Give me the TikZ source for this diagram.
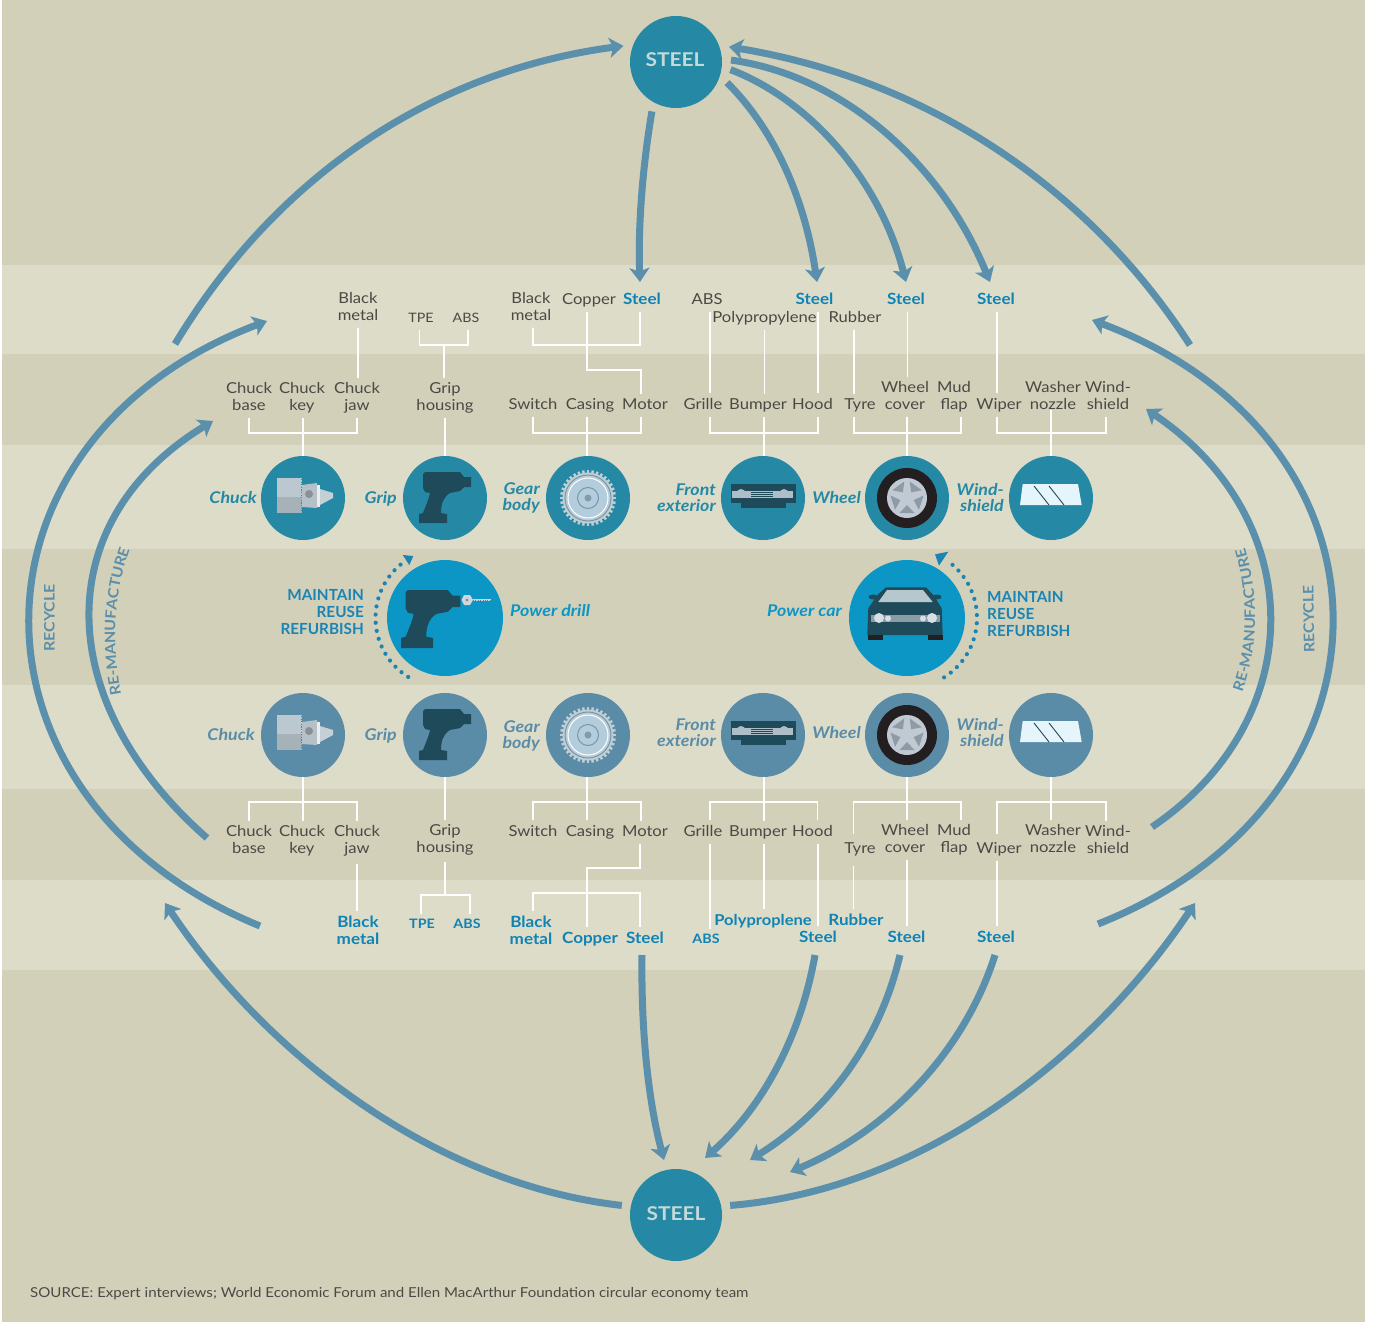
\documentclass[tikz,border=0pt]{standalone}
\usepackage{fontspec}
\setmainfont[FakeStretch=1.1]{Lato}
\newfontfamily\plainlato{Lato}
\usetikzlibrary{arrows.meta,shapes.geometric,decorations.text}
\definecolor{bgdark}{HTML}{D3D0BA}
\definecolor{bglight}{HTML}{DDDCC9}
\definecolor{teal}{HTML}{2589A5}
\definecolor{slate}{HTML}{5A8CA8}
\definecolor{arrowc}{HTML}{5B90AC}
\definecolor{bright}{HTML}{0C96C5}
\definecolor{inkblue}{HTML}{1083B5}
\definecolor{capblue}{HTML}{1A85B5}
\definecolor{ink}{HTML}{4A4A45}
\definecolor{navy}{HTML}{1E4A5A}
\definecolor{steeltxt}{HTML}{C3DAD8}
\definecolor{tyre}{HTML}{231F20}
\tikzset{
  band/.style={fill=bglight,draw=none},
  part/.style={font=\fontsize{15.1}{16.5}\selectfont,text=ink,anchor=base,align=center,inner sep=0pt,outer sep=4.5pt,text depth=3pt},
  mat/.style={part,font=\fontsize{15.5}{16.5}\selectfont\bfseries,text=inkblue},
  small/.style={part,font=\fontsize{13}{14}\selectfont},
  smallb/.style={part,font=\fontsize{13}{14}\selectfont\bfseries,text=inkblue},
  uplab/.style={font=\fontsize{16.2}{16}\selectfont\bfseries\itshape,text=teal,anchor=base east,align=right,inner sep=0pt},
  lowlab/.style={uplab,text=slate},
  wire/.style={draw=white,line width=1.8pt},
  flow/.style={draw=arrowc,line width=7pt,-{Stealth[length=14pt,width=20pt,inset=3.5pt]}},
  side/.style={font=\fontsize{14.5}{14.5}\selectfont\bfseries,text=arrowc,inner sep=0pt},
  care/.style={font=\plainlato\fontsize{15.3}{17}\selectfont\bfseries,text=capblue,inner sep=0pt},
  steelc/.style={circle,fill=teal,minimum size=92pt,inner sep=0pt,outer sep=9pt},
  steelt/.style={text=steeltxt,font=\fontsize{19}{19}\selectfont\bfseries},
  upc/.style={circle,fill=teal,minimum size=84pt,inner sep=0pt},
  lowc/.style={circle,fill=slate,minimum size=84pt,inner sep=0pt},
  bigc/.style={circle,fill=bright,minimum size=116pt,inner sep=0pt},
  dots/.style={draw=capblue,line width=4.2pt,line cap=round,dash pattern=on 0pt off 8.2pt},
  along/.style={decorate,decoration={text along path,text align=center,text={|\color{arrowc}\fontsize{14.5}{14.5}\selectfont\bfseries|RE-MANUFACTURE}}},
}
\newcommand{\drillbody}{%
 (425,472) -- (460,472) -- (464,477) -- (471,477) -- (471,487) -- (464,487) -- (460,491) -- (450,493)
 .. controls (443,497) and (441,505) .. (441,513) -- (447,514) -- (447,523) -- (419,523) -- (419,514) -- (423,513)
 .. controls (426,505) and (429,499) .. (430,493) -- (425,492) -- (423,488) -- (423,474) -- cycle}
\newcommand{\iconrow}{%
 % chuck
 \fill[color={rgb,255:red,188;green,200;blue,208}] (277,478) rectangle (302,497);
 \fill[color={rgb,255:red,166;green,177;blue,184}] (277,497) rectangle (302,513);
 \draw[color={rgb,255:red,110;green,120;blue,128},line width=1.6pt,dash pattern=on 1.2pt off 1.4pt] (301.5,479) -- (301.5,512);
 \fill[color={rgb,255:red,180;green,193;blue,201}] (302,485) -- (317,483) -- (317,508) -- (302,507) -- cycle;
 \fill[color={rgb,255:red,142;green,142;blue,149}] (309,494) circle (4pt);
 \fill[white!85!gray] (317,485) rectangle (320,507);
 \fill[color={rgb,255:red,196;green,208;blue,214}] (320,489) -- (333,493) -- (333,498) -- (320,505) -- cycle;
 % grip
 \fill[navy] \drillbody;
 % gear
 \foreach \a in {0,10,...,350}{\fill[color={rgb,255:red,193;green,207;blue,212},rotate around={\a:(588,498)}] (586.8,470) rectangle (589.2,474);}
 \fill[color={rgb,255:red,193;green,207;blue,212}] (588,498) circle (25.5pt);
 \fill[color={rgb,255:red,180;green,205;blue,220}] (588,498) circle (22pt);
 \draw[color={rgb,255:red,120;green,150;blue,168},line width=1pt] (588,498) circle (23pt);
 \draw[white,line width=1pt] (588,498) circle (20pt);
 \draw[color={rgb,255:red,120;green,150;blue,168},line width=1pt] (588,498) circle (10.5pt);
 \fill[color={rgb,255:red,130;green,155;blue,172}] (588,498) circle (3.5pt);
 % front exterior
 \fill[navy] (731,484) rectangle (796,503);
 \fill[navy] (741,503) rectangle (786,508);
 \fill[color={rgb,255:red,174;green,190;blue,200}] (732,491) rectangle (793,498);
 \fill[color={rgb,255:red,174;green,190;blue,200}] (741,493.5) circle (4.5pt);
 \fill[color={rgb,255:red,174;green,190;blue,200}] (784,493.5) circle (4.5pt);
 \foreach \yy in {492.5,494.5,496.5}{\draw[navy,line width=.5pt] (751,\yy) -- (773,\yy);}
 % wheel
 \fill[tyre] (907,498) circle (30pt);
 \fill[color={rgb,255:red,193;green,202;blue,210}] (907,498) circle (20pt);
 \foreach \a in {0,72,...,288}{\fill[color={rgb,255:red,142;green,155;blue,166},rotate around={\a:(907,498)}] (907,505) -- (914.5,513) -- (899.5,513) -- cycle;}
 % windshield
 \fill[color={rgb,255:red,230;green,245;blue,252}] (1022.7,484) -- (1078,484) -- (1081.7,505) -- (1020,505) -- cycle;
 \draw[navy,line width=.9pt] (1034,486) -- (1049,505);
 \draw[navy,line width=.9pt] (1049,486) -- (1064,505);
}
\begin{document}
\begin{tikzpicture}[x=1pt,y=-1pt]
\useasboundingbox (0,0) rectangle (1379,1322);
\fill[white] (0,0) rectangle (1379,1322);
\fill[bgdark] (2,0) rectangle (1365,1322);
\foreach \a/\b in {265/354,445/549,685/789,880/970}{\fill[band] (2,\a) rectangle (1365,\b);}

% main circles
\node[steelc] (steelT) at (676,62) {};
\node[steelc] (steelB) at (676,1215) {};
\node[steelt] (steelTt) at (675,60) {STEEL};
\node[steelt] (steelBt) at (676,1214) {STEEL};

\node[upc] (cChuck) at (303,498) {};
\node[upc] (cGrip) at (445,498) {};
\node[upc] (cGear) at (588,498) {};
\node[upc] (cFront) at (763,498) {};
\node[upc] (cWheel) at (907,498) {};
\node[upc] (cWind) at (1051,498) {};
\node[lowc] (dChuck) at (303,735) {};
\node[lowc] (dGrip) at (445,735) {};
\node[lowc] (dGear) at (588,735) {};
\node[lowc] (dFront) at (763,735) {};
\node[lowc] (dWheel) at (907,735) {};
\node[lowc] (dWind) at (1051,735) {};
\node[bigc] (drill) at (445,618) {};
\node[bigc] (car) at (907,618) {};

\iconrow
\begin{scope}[shift={(0,237)}]\iconrow\end{scope}

% power drill icon
\begin{scope}[shift={(405.7,590)},scale=1.14,shift={(-423,-472)}]
 \fill[navy] \drillbody;
\end{scope}
\fill[color={rgb,255:red,205;green,214;blue,220}] (461.5,600) -- (464,595) -- (470,595) -- (473,600) -- (470,605) -- (464,605) -- cycle;
\fill[color={rgb,255:red,120;green,125;blue,130}] (467,600) circle (1.4pt);
\draw[color={rgb,255:red,205;green,214;blue,220},line width=1.6pt] (473,600) -- (491,600);
\draw[navy!70!white,line width=.5pt,dash pattern=on 1pt off 1.4pt] (473,600) -- (491,600);

% car icon
\fill[navy] (873,597) ellipse (4.5pt and 2.5pt);
\fill[navy] (937,597) ellipse (4.5pt and 2.5pt);
\fill[navy] (886,587.3) -- (926,587.3) -- (933.3,595) -- (941.7,608.3) -- (942.7,635) -- (867.3,635) -- (868.3,608.3) -- (877.3,595) -- cycle;
\fill[color={rgb,255:red,183;green,199;blue,206}] (887,590) -- (923,590) -- (932.7,602) -- (878.3,602) -- cycle;
\fill[color={rgb,255:red,138;green,156;blue,165}] (871,615) rectangle (940,622);
\fill[color={rgb,255:red,216;green,224;blue,230}] (879,618) circle (5pt);
\fill[color={rgb,255:red,216;green,224;blue,230}] (888,618.5) circle (3pt);
\fill[color={rgb,255:red,216;green,224;blue,230}] (932,618) circle (5pt);
\fill[color={rgb,255:red,216;green,224;blue,230}] (923,618.5) circle (3pt);
\fill[tyre] (867.7,635) rectangle (882.7,640);
\fill[tyre] (927.7,635) rectangle (943,640);

% dotted maintain arcs
\draw[dots] plot[domain=122:234,samples=40] ({445+69.5*cos(\x)},{618+69.5*sin(\x)});
\fill[capblue] (402.7,555) -- (413.3,556) -- (409.3,565) -- cycle;
\draw[dots] plot[domain=58:-52,samples=40] ({907+70*cos(\x)},{618+70*sin(\x)});
\fill[capblue] (935,554.3) -- (948.3,551.7) -- (939,565.7) -- cycle;

% upper materials
\node[part] (uBlackA) at (358,320) {Black\\metal};
\node[small] (uTPE) at (421,322) {TPE};
\node[small] (uABSa) at (466,322) {ABS};
\node[part] (uBlackB) at (531,320) {Black\\metal};
\node[part] (uCopper) at (589,304) {Copper};
\node[mat] (uSteelA) at (642,304) {Steel};
\node[part] (uABSb) at (707,304) {ABS};
\node[part] (uPoly) at (764.5,322) {Polypropylene};
\node[mat] (uSteelB) at (814.5,304) {Steel};
\node[part] (uRubber) at (855,322) {Rubber};
\node[mat] (uSteelC) at (906,304) {Steel};
\node[mat] (uSteelD) at (996,304) {Steel};
% upper parts
\node[part] (uBase) at (249,410) {Chuck\\base};
\node[part] (uKey) at (302,410) {Chuck\\key};
\node[part] (uJaw) at (357,410) {Chuck\\jaw};
\node[part] (uHouse) at (445,410) {Grip\\housing};
\node[part] (uSwitch) at (533,409) {Switch};
\node[part] (uCasing) at (590,409) {Casing};
\node[part] (uMotor) at (645,409) {Motor};
\node[part] (uGrille) at (703,409) {Grille};
\node[part] (uBumper) at (758,409) {Bumper};
\node[part] (uHood) at (812.5,409) {Hood};
\node[part] (uTyre) at (860,409) {Tyre};
\node[part] (uCover) at (905,409) {Wheel\\cover};
\node[part] (uMud) at (954,409) {Mud\\flap};
\node[part] (uWiper) at (999,409) {Wiper};
\node[part] (uNozzle) at (1053,409) {Washer\\nozzle};
\node[part] (uShield) at (1108,409) {Wind-\\shield};
% lower parts
\node[part] (lBase) at (249,853) {Chuck\\base};
\node[part] (lKey) at (302,853) {Chuck\\key};
\node[part] (lJaw) at (357,853) {Chuck\\jaw};
\node[part] (lHouse) at (445,852) {Grip\\housing};
\node[part] (lSwitch) at (533,836) {Switch};
\node[part] (lCasing) at (590,836) {Casing};
\node[part] (lMotor) at (645,836) {Motor};
\node[part] (lGrille) at (703,836) {Grille};
\node[part] (lBumper) at (758,836) {Bumper};
\node[part] (lHood) at (812.5,836) {Hood};
\node[part] (lTyre) at (860,853) {Tyre};
\node[part] (lCover) at (905,852) {Wheel\\cover};
\node[part] (lMud) at (954,852) {Mud\\flap};
\node[part] (lWiper) at (999,853) {Wiper};
\node[part] (lNozzle) at (1053,852) {Washer\\nozzle};
\node[part] (lShield) at (1108,853) {Wind-\\shield};
% lower materials
\node[mat] (lBlackA) at (358,944) {Black\\metal};
\node[smallb] (lTPE) at (422,928) {TPE};
\node[smallb] (lABSa) at (467,928) {ABS};
\node[mat] (lBlackB) at (531,944) {Black\\metal};
\node[mat] (lCopper) at (590,943) {Copper};
\node[mat] (lSteelA) at (645,943) {Steel};
\node[smallb] (lABSb) at (706,943) {ABS};
\node[mat,font=\fontsize{15}{16.5}\selectfont\bfseries] (lPoly) at (763,925) {Polyproplene};
\node[mat] (lRubber) at (856,925) {Rubber};
\node[mat] (lSteelB) at (818,942) {Steel};
\node[mat] (lSteelC) at (906.5,942) {Steel};
\node[mat] (lSteelD) at (996,942) {Steel};

% junctions
\coordinate (jGrip) at (444,345);
\coordinate (jMat) at (587,345);
\coordinate (jMotor) at (587,370);
\coordinate (jChuck) at (303,433);
\coordinate (jGear) at (587,433);
\coordinate (jFront) at (764,433);
\coordinate (jWheel) at (907,433);
\coordinate (jWind) at (1051,433);
\coordinate (kChuck) at (303,802);
\coordinate (kGear) at (587,802);
\coordinate (kFront) at (764,802);
\coordinate (kWheel) at (907,802);
\coordinate (kWind) at (1051,802);
\coordinate (kGrip) at (445,895);
\coordinate (kMotor) at (587,868);
\coordinate (kMat) at (587,893);

% upper wires
\draw[wire] (uBlackA.south) -- ([xshift=1pt]uJaw.north);
\draw[wire] ([xshift=-1.5pt]uTPE.south) |- (jGrip) -| ([xshift=2pt]uABSa.south);
\draw[wire] (jGrip) -- ([xshift=-1pt]uHouse.north);
\draw[wire] ([xshift=2pt]uBlackB.south) |- (jMat) -| ([xshift=-2pt]uSteelA.south);
\draw[wire] ([xshift=-2pt]uCopper.south) -- (jMotor) -| ([xshift=-4pt]uMotor.north);
\draw[wire] ([xshift=3pt]uABSb.south) -- ([xshift=7pt]uGrille.north);
\draw[wire] (uPoly.south) -- ([xshift=6.5pt]uBumper.north);
\draw[wire] ([xshift=3.5pt]uSteelB.south) -- ([xshift=5.5pt]uHood.north);
\draw[wire] ([xshift=-1pt]uRubber.south) -- ([xshift=-6pt]uTyre.north);
\draw[wire] ([xshift=1.5pt]uSteelC.south) -- ([xshift=2.5pt]uCover.north);
\draw[wire] ([xshift=1pt]uSteelD.south) -- ([xshift=-2pt]uWiper.north);
\draw[wire] (uBase.south) |- (jChuck) -| (uJaw.south);
\draw[wire] ([xshift=1pt]uKey.south) -- (cChuck.north);
\draw[wire] (uHouse.south) -- (cGrip.north);
\draw[wire] (uSwitch.south) |- (jGear) -| ([xshift=-4pt]uMotor.south);
\draw[wire] ([xshift=-3pt]uCasing.south) -- ([xshift=-1pt]cGear.north);
\draw[wire] ([xshift=7pt]uGrille.south) |- (jFront) -| ([xshift=5.5pt]uHood.south);
\draw[wire] ([xshift=6pt]uBumper.south) -- ([xshift=1pt]cFront.north);
\draw[wire] ([xshift=-6pt]uTyre.south) |- (jWheel) -| ([xshift=7pt]uMud.south);
\draw[wire] ([xshift=2pt]uCover.south) -- (cWheel.north);
\draw[wire] ([xshift=-2pt]uWiper.south) |- (jWind) -| ([xshift=-2pt]uShield.south);
\draw[wire] ([xshift=-2pt,yshift=7pt]uNozzle.south) -- (cWind.north);

% lower wires
\draw[wire] (dChuck.south) -- ([xshift=1pt]lKey.north);
\draw[wire] (lBase.north) |- (kChuck) -| (lJaw.north);
\draw[wire] (dGrip.south) -- (lHouse.north);
\draw[wire] ([xshift=-1pt]dGear.south) -- ([xshift=-3pt]lCasing.north);
\draw[wire] (lSwitch.north) |- (kGear) -| ([xshift=-4pt]lMotor.north);
\draw[wire] ([xshift=1pt]dFront.south) -- ([xshift=6pt]lBumper.north);
\draw[wire] ([xshift=7pt]lGrille.north) |- (kFront) -| ([xshift=5pt]lHood.north);
\draw[wire] (dWheel.south) -- ([xshift=2pt]lCover.north);
\draw[wire] ([xshift=-6.5pt,yshift=3.5pt]lTyre.north) |- (kWheel) -| ([xshift=7pt]lMud.north);
\draw[wire] (dWind.south) -- ([xshift=-2pt]lNozzle.north);
\draw[wire] ([xshift=-2pt,yshift=3.5pt]lWiper.north) |- (kWind) -| ([xshift=-2pt]lShield.north);
\draw[wire] ([yshift=-3pt]lJaw.south) -- ([xshift=-1pt]lBlackA.north);
\draw[wire] ([yshift=-2pt]lHouse.south) -- (kGrip);
\draw[wire] ([xshift=-1pt]lTPE.north) |- (kGrip) -| ([xshift=3pt]lABSa.north);
\draw[wire] ([xshift=-5pt]lMotor.south) |- (kMotor) -- ([xshift=-3pt]lCopper.north);
\draw[wire] ([xshift=2pt]lBlackB.north) |- (kMat) -| ([xshift=-5pt]lSteelA.north);
\draw[wire] ([xshift=7pt]lGrille.south) -- ([xshift=4pt]lABSb.north);
\draw[wire] ([xshift=6pt]lBumper.south) -- ([xshift=1pt]lPoly.north);
\draw[wire] ([xshift=5.5pt]lHood.south) -- (lSteelB.north);
\draw[wire] ([xshift=-6.5pt,yshift=-5pt]lTyre.south) -- ([xshift=-2.5pt]lRubber.north);
\draw[wire] ([xshift=2pt]lCover.south) -- ([xshift=.5pt]lSteelC.north);
\draw[wire] ([xshift=-2pt]lWiper.south) -- ([xshift=1pt]lSteelD.north);

% circle labels
\node[uplab] (t1) at (257,503) {Chuck};
\node[uplab] (t2) at (397,503) {Grip};
\node[uplab] (t3) at (540,510) {Gear\\body};
\node[uplab] (t4) at (716,511) {Front\\exterior};
\node[uplab] (t5) at (861,503) {Wheel};
\node[uplab] (t6) at (1004,511) {Wind-\\shield};
\node[lowlab] (b1) at (255,740) {Chuck};
\node[lowlab] (b2) at (397,740) {Grip};
\node[lowlab] (b3) at (540,748) {Gear\\body};
\node[lowlab] (b4) at (716,746) {Front\\exterior};
\node[lowlab] (b5) at (861,738) {Wheel};
\node[lowlab] (b6) at (1004,746) {Wind-\\shield};
\node[uplab,text=bright,anchor=base west] (pd) at (510,616) {Power drill};
\node[uplab,text=bright] (pc) at (842,616) {Power car};
\node[care,anchor=base east,align=right] (m1) at (364,634) {MAINTAIN\\REUSE\\REFURBISH};
\node[care,anchor=base west,align=left] (m2) at (987,636) {MAINTAIN\\REUSE\\REFURBISH};

% flow arrows
\coordinate (a1) at (175,344);
\coordinate (b1e) at (1190,345);
\draw[flow] (a1) .. controls (280,170) and (440,70) .. (steelT.163.5);
\draw[flow] (b1e) .. controls (1090,190) and (930,80) .. (steelT.16);
\draw[flow] (steelT.244) .. controls (642,170) and (638,230) .. ([xshift=-2pt,yshift=6pt]uSteelA.north);
\draw[flow] (steelT.-22) .. controls (775,130) and (805,200) .. ([xshift=2.5pt,yshift=6pt]uSteelB.north);
\draw[flow] (steelT.-8) .. controls (810,100) and (880,180) .. ([xshift=0pt,yshift=6pt]uSteelC.north);
\draw[flow] (steelT.2) .. controls (840,75) and (940,160) .. ([xshift=-6pt,yshift=6pt]uSteelD.north);
\coordinate (g0) at (260,926); \coordinate (g1) at (267,321);
\coordinate (h0) at (207,838); \coordinate (h1) at (213,421);
\coordinate (i0) at (1098,924); \coordinate (i1) at (1092,320);
\coordinate (j0) at (1152,827); \coordinate (j1) at (1146,409);
\draw[flow] (g0) .. controls (-48,800) and (-48,440) .. (g1);
\draw[flow] (h0) .. controls (50,700) and (50,520) .. (h1);
\draw[flow] (i0) .. controls (1411,800) and (1411,440) .. (i1);
\draw[flow] (j0) .. controls (1310,720) and (1310,520) .. (j1);
\coordinate (k0) at (642,955); \coordinate (k1) at (664,1160);
\coordinate (l0) at (815,955); \coordinate (l1) at (705,1158);
\coordinate (m0) at (900,955); \coordinate (m1e) at (750,1160);
\coordinate (n0) at (995,955); \coordinate (n1) at (790,1172);
\coordinate (o1) at (165,903); \coordinate (p1) at (1195,903);
\draw[flow] (k0) .. controls (641,1030) and (648,1100) .. (k1);
\draw[flow] (l0) .. controls (800,1040) and (760,1110) .. (l1);
\draw[flow] (m0) .. controls (880,1040) and (830,1110) .. (m1e);
\draw[flow] (n0) .. controls (965,1050) and (890,1130) .. (n1);
\draw[flow] (steelB.170) .. controls (440,1185) and (270,1060) .. (o1);
\draw[flow] (steelB.10) .. controls (920,1190) and (1090,1060) .. (p1);

% side labels
\node[side,rotate=90] (r1) at (49.5,618) {RECYCLE};
\coordinate (r2a) at (120.7,692); \coordinate (r2b) at (129,552);
\path[along] (r2a) .. controls (112.4,645) and (112.4,600) .. (r2b);
\coordinate (r3a) at (1242.3,692); \coordinate (r3b) at (1245,548);
\path[along] (r3a) .. controls (1259,645) and (1259,595) .. (r3b);
\node[side,rotate=91] (r4) at (1308.7,619) {RECYCLE};

\node[anchor=base west,inner sep=0pt,font=\fontsize{13.7}{14}\selectfont,text=ink] (src) at (30,1297) {SOURCE: Expert interviews; World Economic Forum and Ellen MacArthur Foundation circular economy team};
\end{tikzpicture}
\end{document}
